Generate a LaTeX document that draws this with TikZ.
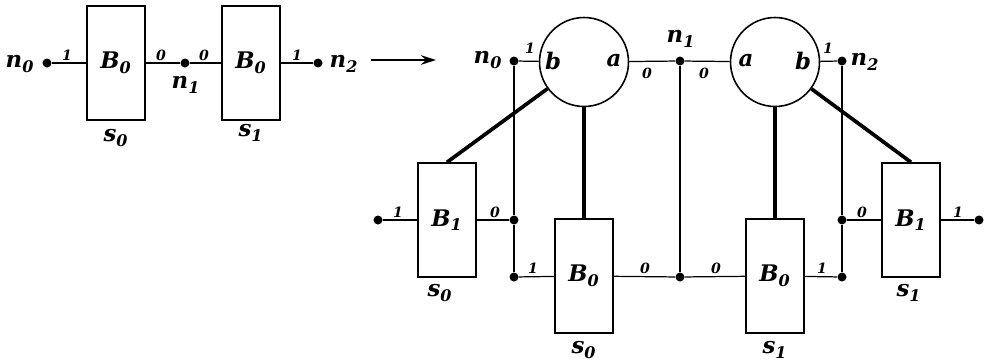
\documentclass[tikz,border=0pt]{standalone}
\usepackage{fontspec}
\setmainfont{DejaVu Serif}
\usetikzlibrary{arrows.meta}
\newcommand{\lbl}[2]{#1\textsubscript{#2}}

\begin{document}
\begin{tikzpicture}[x=0.02cm,y=-0.02cm,>={Stealth[length=3mm,width=1.9mm]},
  blk/.style={draw,line width=0.9pt,minimum width=1.16cm,minimum height=2.28cm,inner sep=0pt,font=\bfseries\itshape\fontsize{13}{15}\selectfont},
  pin/.style={circle,fill,inner sep=0pt,minimum size=1.8mm},
  ring/.style={circle,draw,line width=0.9pt,minimum size=1.78cm,inner sep=0pt},
  big/.style={font=\bfseries\itshape\fontsize{13}{15}\selectfont,inner sep=1pt},
  tiny/.style={font=\bfseries\itshape\fontsize{8}{9}\selectfont,inner sep=1pt},
  wire/.style={line width=0.7pt},
  bus/.style={line width=1.2pt},
  arm/.style={line width=2.1pt}]
  \useasboundingbox (0,0) rectangle (990,362);
  % before
  \node[pin] (ln0) at (47,63) {};
  \node[blk] (lb0) at (116,63) {\lbl{B}{0}};
  \node[pin] (ln1) at (185,63) {};
  \node[blk] (lb1) at (251,63) {\lbl{B}{0}};
  \node[pin] (ln2) at (318,63) {};
  \draw[wire] (ln0) -- (lb0) -- (ln1) -- (lb1) -- (ln2);
  \node[big] (tn0) at (20,64) {\lbl{n}{0}};
  \node[big] (tn1) at (186,85) {\lbl{n}{1}};
  \node[big] (tn2) at (344,64) {\lbl{n}{2}};
  \node[big] (ts0) at (116,138) {\lbl{s}{0}};
  \node[big] (ts1) at (251,133) {\lbl{s}{1}};
  \node[tiny] at (67,55) {1};
  \node[tiny] at (161,55) {0};
  \node[tiny] at (204,55) {0};
  \node[tiny] at (297,55) {1};
  \coordinate (arrs) at (371,60);
  \coordinate (arre) at (436,60);
  \draw[->,line width=1.1pt] (arrs) -- (arre);
  % after
  \node[ring] (c1) at (584,62) {};
  \node[ring] (c2) at (775,62) {};
  \node[big] at (553,61) {b};
  \node[big] at (614,61) {a};
  \node[big] at (746,61) {a};
  \node[big] at (803,61) {b};
  \node[pin] (rn0) at (514,61) {};
  \node[pin] (rn1) at (680,61) {};
  \node[pin] (rn2) at (842,61) {};
  \node[pin] (d1) at (514,220) {};
  \node[pin] (d2) at (514,277) {};
  \node[pin] (d3) at (680,277) {};
  \node[pin] (d4) at (842,277) {};
  \node[pin] (d5) at (842,220) {};
  \node[pin] (din) at (378,220) {};
  \node[pin] (dout) at (979,220) {};
  \node[blk] (b1l) at (447,220) {\lbl{B}{1}};
  \node[blk] (b0l) at (584,276) {\lbl{B}{0}};
  \node[blk] (b0r) at (775,276) {\lbl{B}{0}};
  \node[blk] (b1r) at (911,220) {\lbl{B}{1}};
  \draw[wire] (rn0) -- (c1) -- (rn1) -- (c2) -- (rn2);
  \draw[wire] (din) -- (b1l) -- (d1);
  \draw[wire] (d2) -- (b0l) -- (d3) -- (b0r) -- (d4);
  \draw[wire] (d5) -- (b1r) -- (dout);
  \draw[bus] (rn0) -- (d1) -- (d2);
  \draw[bus] (rn1) -- (d3);
  \draw[bus] (rn2) -- (d5) -- (d4);
  \draw[arm] (c1) -- (b0l);
  \draw[arm] (c2) -- (b0r);
  \draw[arm] (c1) -- (b1l.north);
  \draw[arm] (c2) -- (b1r.north);
  \node[big] at (488,60) {\lbl{n}{0}};
  \node[big] at (681,39) {\lbl{n}{1}};
  \node[big] at (865,62) {\lbl{n}{2}};
  \node[big] at (440,293) {\lbl{s}{0}};
  \node[big] at (584,350) {\lbl{s}{0}};
  \node[big] at (775,350) {\lbl{s}{1}};
  \node[big] at (909,293) {\lbl{s}{1}};
  \node[tiny] at (530,48) {1};
  \node[tiny] at (647,73) {0};
  \node[tiny] at (704,73) {0};
  \node[tiny] at (828,48) {1};
  \node[tiny] at (398,212) {1};
  \node[tiny] at (495,212) {0};
  \node[tiny] at (533,268) {1};
  \node[tiny] at (645,268) {0};
  \node[tiny] at (716,268) {0};
  \node[tiny] at (822,268) {1};
  \node[tiny] at (862,212) {0};
  \node[tiny] at (958,212) {1};
\end{tikzpicture}
\end{document}
